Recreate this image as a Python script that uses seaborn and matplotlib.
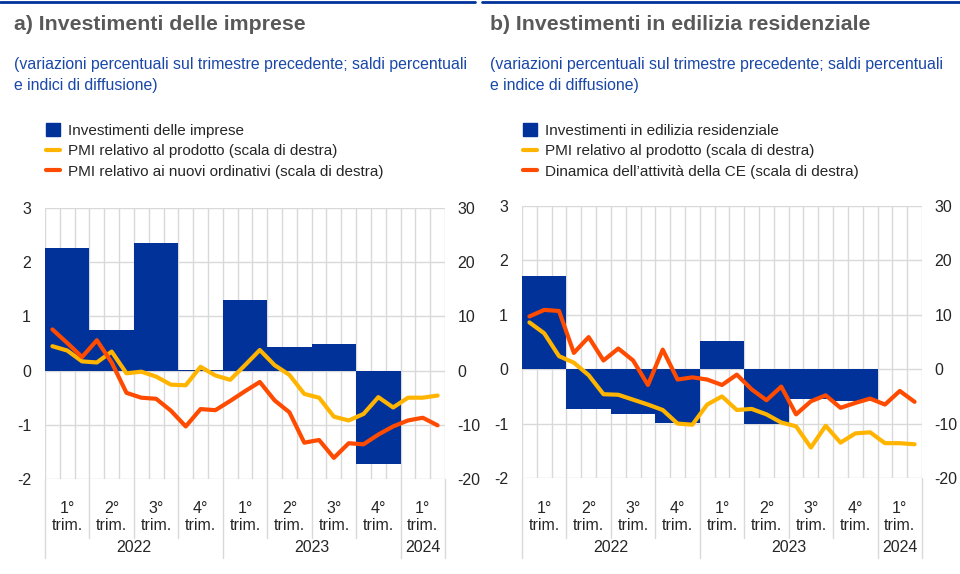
import numpy as np
import pandas as pd
import matplotlib
matplotlib.use("Agg")
import matplotlib.pyplot as plt
import matplotlib.transforms as mtransforms
from matplotlib.lines import Line2D
from matplotlib.patches import Patch
import seaborn as sns

# ---------------- data ----------------
quarter_labels = ["1°\ntrim.", "2°\ntrim.", "3°\ntrim.", "4°\ntrim.",
                  "1°\ntrim.", "2°\ntrim.", "3°\ntrim.", "4°\ntrim.", "1°\ntrim."]
years = ["2022", "2023", "2024"]
year_quarters = [4, 4, 1]

# panel a
inv_imprese = [2.27, 0.75, 2.35, 0.02, 1.30, 0.43, 0.50, -1.72, np.nan]
pmi_prodotto_a = [4.5, 3.7, 1.7, 1.5, 3.5, -0.5, -0.2, -1.1, -2.6, -2.7, 0.7, -0.9, -1.7,
                  1.0, 3.8, 1.0, -0.8, -4.3, -5.0, -8.5, -9.2, -8.0, -4.9, -6.8, -5.0, -5.0, -4.6]
pmi_ordini = [7.6, 5.1, 2.5, 5.6, 1.5, -4.1, -5.0, -5.2, -7.4, -10.3, -7.1, -7.3, -5.6,
              -3.8, -2.1, -5.5, -7.7, -13.3, -12.8, -16.1, -13.4, -13.6, -11.8, -10.3, -9.2, -8.7, -10.1]

# panel b
inv_edilizia = [1.72, -0.74, -0.83, -0.99, 0.52, -1.00, -0.54, -0.58, np.nan]
pmi_prodotto_b = [8.6, 6.6, 2.4, 1.2, -1.1, -4.6, -4.7, -5.6, -6.5, -7.5, -10.0, -10.2, -6.5,
                  -5.0, -7.5, -7.3, -8.3, -9.8, -10.5, -14.4, -10.4, -13.5, -11.8, -11.6, -13.6, -13.6, -13.8]
ce_attivita = [9.7, 10.9, 10.7, 3.0, 5.9, 1.6, 3.8, 1.6, -2.9, 3.6, -1.9, -1.5, -1.9,
               -2.9, -1.0, -3.7, -5.7, -3.2, -8.3, -5.9, -4.8, -7.1, -6.2, -5.4, -6.5, -4.0, -6.0]

titles = ["a) Investimenti delle imprese", "b) Investimenti in edilizia residenziale"]
subtitles = ["(variazioni percentuali sul trimestre precedente; saldi percentuali\ne indici di diffusione)",
             "(variazioni percentuali sul trimestre precedente; saldi percentuali\ne indice di diffusione)"]
legend_a = ["Investimenti delle imprese", "PMI relativo al prodotto (scala di destra)",
            "PMI relativo ai nuovi ordinativi (scala di destra)"]
legend_b = ["Investimenti in edilizia residenziale", "PMI relativo al prodotto (scala di destra)",
            "Dinamica dell\u2019attività della CE (scala di destra)"]

BLUE = "#003299"
YELLOW = "#ffb400"
ORANGE = "#ff4b00"
GRID = "#d9d9d9"
TXT = "#262626"

sns.set_style("white")
plt.rcParams["font.family"] = ["Liberation Sans", "DejaVu Sans"]

W, H = 960, 574
fig = plt.figure(figsize=(W / 100, H / 100), dpi=100)


def px_rect(x0, y_top, x1, y_bot):
    return [x0 / W, 1 - y_bot / H, (x1 - x0) / W, (y_bot - y_top) / H]


def panel(rect, bars, line1, line2, title, subtitle, labels, tx, legx):
    x0, y_top, x1, y_bot = rect
    ax = fig.add_axes(px_rect(*rect))
    q_pos = np.arange(len(bars)) * 3 + 1.5
    m_pos = np.arange(len(line1)) + 0.5
    dfb = pd.DataFrame({"x": q_pos, "v": bars}).dropna()
    sns.barplot(data=dfb, x="x", y="v", native_scale=True, width=1.0, color=BLUE,
                saturation=1, errorbar=None, ax=ax, linewidth=0)
    ax.set_xlim(0, 27)
    ax.set_ylim(-2, 3)
    ax.set_xticks(np.arange(0, 28))
    ax.set_yticks(np.arange(-2, 4))
    ax.set_yticklabels([str(v) for v in range(-2, 4)])
    ax.grid(True, color=GRID, lw=1)
    ax.set_axisbelow(True)
    ax.tick_params(axis="x", length=0, labelbottom=False)
    ax.tick_params(axis="y", length=0, pad=10, labelsize=11.5, labelcolor=TXT)
    ax.set_xlabel("")
    ax.set_ylabel("")
    for s in ax.spines.values():
        s.set_visible(False)

    ax2 = ax.twinx()
    dfl = pd.DataFrame({"m": m_pos, "a": line1, "b": line2})
    sns.lineplot(data=dfl, x="m", y="a", ax=ax2, color=YELLOW, lw=3,
                 solid_joinstyle="round", solid_capstyle="round")
    sns.lineplot(data=dfl, x="m", y="b", ax=ax2, color=ORANGE, lw=3,
                 solid_joinstyle="round", solid_capstyle="round")
    ax2.set_ylim(-20, 30)
    ax2.set_xlim(0, 27)
    ax2.set_yticks(np.arange(-20, 31, 10))
    ax2.set_yticklabels([str(v) for v in range(-20, 31, 10)])
    ax2.tick_params(axis="y", length=0, pad=9, labelsize=11.5, labelcolor=TXT)
    ax2.set_ylabel("")
    ax2.set_xlabel("")
    ax2.grid(False)
    for s in ax2.spines.values():
        s.set_visible(False)

    trans = mtransforms.blended_transform_factory(ax.transData, ax.transAxes)
    ph = y_bot - y_top
    # quarter labels
    for i, lab in enumerate(quarter_labels):
        ax.text(q_pos[i], -(517 - y_bot) / ph, lab, transform=trans, ha="center",
                va="center", fontsize=11.5, color=TXT, linespacing=1.2)
    # separators
    ybound = []
    acc = 0
    for n in year_quarters:
        ybound.append(acc * 3)
        acc += n
    ybound.append(acc * 3)
    for q in range(0, 10):
        m = q * 3
        depth = 558 if m in ybound else 538
        ax.plot([m, m], [0, -(depth - y_bot) / ph], transform=trans, color=GRID,
                lw=1, clip_on=False)
    # years
    for k, yl in enumerate(years):
        c = (ybound[k] + ybound[k + 1]) / 2
        ax.text(c, -(548 - y_bot) / ph, yl, transform=trans, ha="center", va="center",
                fontsize=11.5, color=TXT)

    # titles
    fig.text(tx / W, 1 - 24 / H, title, fontsize=15.3, fontweight="bold",
             color="#595959", va="center", ha="left")
    fig.text(tx / W, 1 - 75 / H, subtitle, fontsize=11.4, color="#1a47a8",
             va="center", ha="left", linespacing=1.5)

    handles = [Patch(facecolor=BLUE, edgecolor=BLUE),
               Line2D([], [], color=YELLOW, lw=3),
               Line2D([], [], color=ORANGE, lw=3)]
    fig.legend(handles, labels, loc="upper left",
               bbox_to_anchor=(legx / W, 1 - 123 / H), frameon=False,
               fontsize=11, handlelength=0.9, handleheight=0.9, handletextpad=0.55,
               labelspacing=0.4, borderpad=0, borderaxespad=0, labelcolor=TXT)
    return ax, ax2


panel((45, 208, 445, 479), inv_imprese, pmi_prodotto_a, pmi_ordini,
      titles[0], subtitles[0], legend_a, 14, 46)
panel((522, 206, 922, 478), inv_edilizia, pmi_prodotto_b, ce_attivita,
      titles[1], subtitles[1], legend_b, 490, 523)

fig.add_artist(Line2D([0, 475 / W], [1 - 1.5 / H] * 2, color=BLUE, lw=2))
fig.add_artist(Line2D([482 / W, 1], [1 - 1.5 / H] * 2, color=BLUE, lw=2))

fig.savefig("out.png", dpi=100)
